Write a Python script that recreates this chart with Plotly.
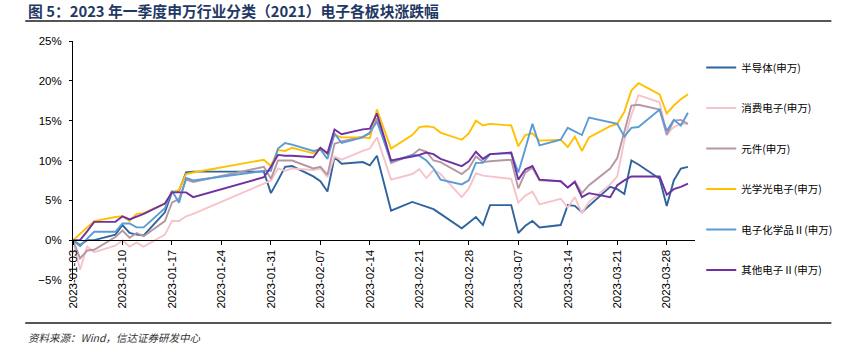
import plotly.graph_objects as go
import pandas as pd

dates = ["2023-01-03","2023-01-04","2023-01-05","2023-01-06","2023-01-09","2023-01-10","2023-01-11","2023-01-12","2023-01-13",
         "2023-01-16","2023-01-17","2023-01-18","2023-01-19","2023-01-20","2023-01-30","2023-01-31",
         "2023-02-01","2023-02-02","2023-02-03","2023-02-06","2023-02-07","2023-02-08","2023-02-09","2023-02-10",
         "2023-02-13","2023-02-14","2023-02-15","2023-02-16","2023-02-17","2023-02-20","2023-02-21","2023-02-22",
         "2023-02-23","2023-02-24","2023-02-27","2023-02-28",
         "2023-03-01","2023-03-02","2023-03-03","2023-03-06","2023-03-07","2023-03-08","2023-03-09","2023-03-10",
         "2023-03-13","2023-03-14","2023-03-15","2023-03-16","2023-03-17","2023-03-20","2023-03-21","2023-03-22",
         "2023-03-23","2023-03-24","2023-03-27","2023-03-28","2023-03-29","2023-03-30","2023-03-31"]

semiconductor = [0, -0.6, 0, 0, 0.7, 1.9, 0.9, 0.7, 0.6, 3.5, 6.0, 6.2, 8.5, 8.6, 8.6, 5.9,
                 7.5, 9.2, 9.3, 8.0, 7.4, 6.1, 10.4, 9.6, 9.8, 9.4, 10.6, 7.2, 3.7, 4.8, 4.5, 4.1, 3.9, 3.3, 1.5, 2.2,
                 2.9, 1.9, 4.4, 4.4, 0.9, 1.8, 2.4, 1.6, 1.9, 4.4, 4.3, 3.5, 4.3, 6.7, 6.4, 5.8, 10.0, 9.5, 7.7, 4.3, 7.5, 9.0, 9.2]
consumer = [0, -3.7, -0.8, -1.5, -0.7, 0.0, -0.8, -0.3, -0.8, 0.7, 2.4, 2.4, 3.0, 3.3, 7.1, 7.5,
            9.0, 8.7, 9.0, 8.8, 9.0, 7.9, 10.5, 10.1, 11.2, 11.5, 12.9, 10.2, 7.6, 8.3, 8.9, 7.8, 8.8, 8.3, 5.4, 6.5,
            8.4, 8.1, 8.0, 7.7, 4.7, 5.6, 6.1, 4.5, 5.2, 4.1, 5.4, 3.4, 4.8, 7.0, 8.0, 12.5, 15.7, 18.2, 17.3, 13.3, 14.2, 14.6, 14.6]
components = [0, -2.3, -1.3, -1.2, 0.4, 1.2, 0.3, 0.9, 0.5, 2.4, 4.7, 5.2, 7.6, 7.3, 9.2, 7.7,
              10.0, 10.0, 10.0, 9.0, 9.2, 8.2, 12.1, 12.4, 13.0, 13.4, 15.3, 12.5, 9.7, 10.7, 11.4, 11.1, 10.0, 9.8, 8.3, 9.0,
              10.5, 9.8, 9.9, 10.1, 6.5, 8.5, 9.1, 7.5, 7.4, 6.6, 7.4, 5.9, 6.9, 9.0, 10.3, 13.6, 16.9, 17.0, 16.4, 13.2, 15.0, 15.1, 14.6]
optical = [0, 0.8, 1.6, 2.4, 2.9, 3.0, 2.4, 3.3, 3.4, 4.6, 5.9, 6.3, 8.3, 8.5, 10.1, 9.3,
           11.3, 11.2, 11.6, 10.9, 11.6, 10.8, 13.2, 12.9, 12.9, 12.8, 16.4, 14.0, 11.5, 13.2, 14.2, 14.3, 14.2, 13.5, 12.6, 13.4,
           15.0, 14.4, 14.6, 14.4, 11.8, 13.2, 13.4, 12.5, 12.6, 11.7, 13.0, 11.2, 12.9, 14.3, 14.6, 16.1, 18.8, 19.7, 18.3, 15.9, 16.9, 17.7, 18.3]
chemicals = [0, -0.75, 0.2, 1.05, 1.05, 2.1, 2.1, 1.6, 1.6, 4.0, 6.2, 4.7, 7.8, 7.5, 8.7, 8.7,
             11.5, 12.2, 12.0, 11.2, 11.4, 10.2, 13.4, 12.2, 12.9, 13.5, 14.9, 12.3, 9.9, 10.7, 10.6, 10.0, 9.0, 7.6, 7.0, 7.5,
             9.7, 9.7, 10.8, 10.9, 8.5, 11.5, 14.6, 11.9, 12.6, 14.1, 13.7, 13.2, 15.4, 14.8, 14.6, 13.0, 14.1, 14.2, 16.4, 13.7, 15.1, 14.4, 16.0]
other = [0, 0, 1.1, 2.3, 2.3, 3.0, 2.6, 2.9, 3.3, 4.6, 6.0, 6.0, 6.0, 5.4, 7.9, 9.2,
         10.7, 10.6, 10.6, 10.4, 11.6, 10.9, 13.9, 13.3, 13.9, 14.0, 15.9, 13.0, 10.0, 10.5, 10.7, 11.0, 10.8, 10.2, 9.3, 9.9,
         11.1, 10.2, 10.8, 11.0, 7.6, 8.9, 9.3, 7.6, 7.4, 6.6, 7.3, 5.4, 5.9, 5.4, 6.9, 7.5, 8.0, 8.0, 8.0, 5.7, 6.4, 6.7, 7.1]

names = ["半导体(申万)", "消费电子(申万)", "元件(申万)", "光学光电子(申万)", "电子化学品Ⅱ(申万)", "其他电子Ⅱ(申万)"]
series = [semiconductor, consumer, components, optical, chemicals, other]
colors = ["#2F649E", "#F7C3CA", "#B497A3", "#FFC000", "#5B9BD5", "#7030A0"]

tick_dates = ["2023-01-03","2023-01-10","2023-01-17","2023-01-24","2023-01-31","2023-02-07","2023-02-14",
              "2023-02-21","2023-02-28","2023-03-07","2023-03-14","2023-03-21","2023-03-28"]

fig = go.Figure()
for i, (n, s, c) in enumerate(zip(names, series, colors)):
    fig.add_trace(go.Scatter(x=pd.to_datetime(dates), y=s, mode="lines", name=n,
                             line=dict(color=c, width=1.9), legendgroup=str(i)))

fig.update_layout(
    width=850, height=353,
    margin=dict(l=73, r=152, t=41, b=73),
    paper_bgcolor="white", plot_bgcolor="white",
    font=dict(family="Liberation Sans, Arial, sans-serif", size=11, color="#000000"),
    showlegend=True,
    legend=dict(x=1.01, xanchor="left", y=0.95, yanchor="top", tracegroupgap=21.5,
                font=dict(family="Noto Sans CJK SC", size=10.5, color="#000000"),
                bgcolor="rgba(0,0,0,0)"),
    xaxis=dict(type="date", range=["2023-01-03", "2023-04-01"],
               tickvals=pd.to_datetime(tick_dates), ticktext=tick_dates, tickangle=-90,
               showline=True, linecolor="#000000", linewidth=1,
               ticks="outside", ticklen=4, tickcolor="#000000",
               showgrid=False, zeroline=False,
               anchor="free", position=5/30,
               tickfont=dict(size=11.5, color="#000000")),
    yaxis=dict(range=[-5, 25], dtick=5, ticksuffix="%", showgrid=False, zeroline=False,
               showline=True, linecolor="#000000", linewidth=1,
               ticks="outside", ticklen=3, tickcolor="#000000", ticklabelstandoff=5,
               tickfont=dict(size=11.5, color="#000000")),
)

fig.add_annotation(text="<b>图 5：2023 年一季度申万行业分类（2021）电子各板块涨跌幅</b>",
                   xref="paper", yref="paper", x=(27-73)/625, y=(280-10)/239,
                   xanchor="left", yanchor="middle", align="left", showarrow=False,
                   borderpad=0,
                   font=dict(family="Noto Sans CJK SC", size=14.8, color="#1F3864"))
fig.add_annotation(text="<i>资料来源：Wind，信达证券研发中心</i>",
                   xref="paper", yref="paper", x=(27-73)/625, y=(280-337)/239,
                   xanchor="left", yanchor="middle", align="left", showarrow=False,
                   borderpad=0,
                   font=dict(family="Noto Sans CJK SC", size=10.5, color="#333333"))
fig.add_shape(type="line", xref="paper", yref="paper",
              x0=(25-73)/625, x1=(835-73)/625, y0=(280-21)/239, y1=(280-21)/239,
              line=dict(color="#555555", width=2))
fig.add_shape(type="line", xref="paper", yref="paper",
              x0=(25-73)/625, x1=(835-73)/625, y0=(280-323)/239, y1=(280-323)/239,
              line=dict(color="#555555", width=2))

fig.write_html("out.html")
